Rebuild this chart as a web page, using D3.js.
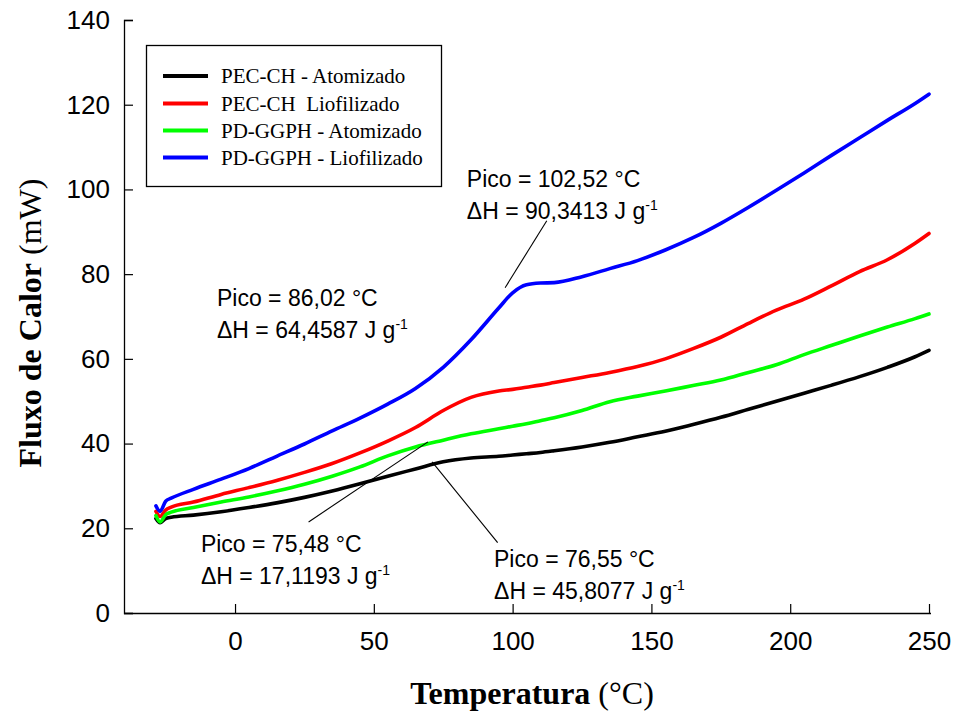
<!DOCTYPE html>
<html>
<head>
<meta charset="utf-8">
<script src="https://cdn.jsdelivr.net/npm/d3@7"></script>
<style>
  html, body { margin: 0; padding: 0; background: #fff; }
  svg { display: block; }
</style>
</head>
<body>
<svg id="chart" width="953" height="714"></svg>
<script>
// Temperature grid (°C) shared by all DSC curves
const temps = [-28.5, -27, -25, -23, -15, -5, 5, 15, 25, 35, 45, 55, 65, 75, 85, 95, 100, 105, 110, 115,
               125, 135, 145, 155, 165, 175, 185, 195, 205, 215, 225, 235, 245, 250];

// Heat flow (mW) for each sample
const pecAtomizado = [22.3, 21.3, 22.3, 22.6, 23.1, 23.9, 24.9, 26.0, 27.3, 28.8, 30.5, 32.3, 34.0, 35.7, 36.6, 37.0, 37.3, 37.6, 37.9, 38.3,
                      39.2, 40.3, 41.6, 42.9, 44.5, 46.2, 48.1, 50.0, 51.9, 53.8, 55.8, 58.0, 60.5, 62.0];
const pecLiofilizado = [24.0, 22.8, 24.3, 25.0, 26.2, 28.0, 29.6, 31.3, 33.2, 35.3, 37.8, 40.6, 43.8, 47.8, 50.9, 52.4, 52.8, 53.3, 53.8, 54.4,
                        55.6, 56.8, 58.2, 60.0, 62.4, 65.1, 68.4, 71.5, 74.1, 77.3, 80.6, 83.4, 87.3, 89.6];
const pdAtomizado = [23.0, 21.5, 23.2, 23.8, 24.9, 26.2, 27.4, 28.8, 30.4, 32.3, 34.5, 37.1, 39.2, 40.8, 42.3, 43.5, 44.1, 44.7, 45.4, 46.1,
                     47.8, 49.9, 51.2, 52.4, 53.7, 55.0, 56.8, 58.6, 61.0, 63.2, 65.4, 67.5, 69.5, 70.6];
const pdLiofilizado = [25.3, 24.0, 26.4, 27.1, 29.2, 31.6, 34.1, 37.0, 39.9, 43.0, 46.0, 49.3, 53.0, 58.0, 64.5, 72.0, 75.6, 77.5, 77.9, 78.0,
                       79.4, 81.3, 83.2, 85.7, 88.6, 92.0, 95.8, 99.8, 103.9, 108.1, 112.2, 116.3, 120.3, 122.5];

const seriesNames = ["PEC-CH - Atomizado", "PEC-CH  Liofilizado", "PD-GGPH - Atomizado", "PD-GGPH - Liofilizado"];
const seriesColors = ["#000000", "#ff0000", "#00ff00", "#0000ff"];
const seriesValues = [pecAtomizado, pecLiofilizado, pdAtomizado, pdLiofilizado];

const xTicks = [0, 50, 100, 150, 200, 250];
const yTicks = [0, 20, 40, 60, 80, 100, 120, 140];

// Peak annotations: text anchor and optional leader line, in data units
const annotations = [
  { pico: "Pico = 102,52 °C", dh: "90,3413", tx: 83.5, ty: 100.5, line: [[112.3, 92.6], [97.3, 76.8]] },
  { pico: "Pico = 86,02 °C",  dh: "64,4587", tx: -6.5, ty: 72.5, line: null },
  { pico: "Pico = 75,48 °C",  dh: "17,1193", tx: -12.3, ty: 14.4, line: [[26.5, 21.5], [69.5, 40.4]] },
  { pico: "Pico = 76,55 °C",  dh: "45,8077", tx: 93.3, ty: 10.8, line: [[71.0, 35.7], [94.6, 16.6]] }
];

const svg = d3.select("#chart");
const x = d3.scaleLinear().domain([-40, 250]).range([124, 929]);
const y = d3.scaleLinear().domain([0, 140]).range([613, 20]);

// Axes (ticks point inward)
const xAxis = d3.axisBottom(x).tickValues(xTicks).tickSize(-9).tickPadding(19).tickFormat(d3.format("d"));
const yAxis = d3.axisLeft(y).tickValues(yTicks).tickSize(-9).tickPadding(14).tickFormat(d3.format("d"));

const gx = svg.append("g").attr("transform", `translate(0,${y(0)})`).call(xAxis);
const gy = svg.append("g").attr("transform", `translate(${x(-40)},0)`).call(yAxis);
[gx, gy].forEach(g => {
  g.select(".domain").attr("stroke", "#000").attr("stroke-width", 1.3);
  g.selectAll(".tick line").attr("stroke", "#000").attr("stroke-width", 1.2);
  g.selectAll(".tick text").attr("fill", "#000")
    .style("font-family", "'Liberation Sans', Arial, sans-serif").style("font-size", "26px");
});
gx.select(".domain").attr("d", `M${x(-40)},0.5H${x(250) + 2}`);

// Curves
const line = d3.line()
  .x((d, i) => x(temps[i]))
  .y(d => y(d))
  .curve(d3.curveMonotoneX);

svg.append("g").selectAll("path")
  .data(seriesValues)
  .join("path")
  .attr("d", d => line(d))
  .attr("fill", "none")
  .attr("stroke", (d, i) => seriesColors[i])
  .attr("stroke-width", 3.6)
  .attr("stroke-linejoin", "round")
  .attr("stroke-linecap", "round");

// Legend
const legend = svg.append("g");
legend.append("rect")
  .attr("x", 146.5).attr("y", 45.5).attr("width", 295).attr("height", 141)
  .attr("fill", "#fff").attr("stroke", "#000").attr("stroke-width", 1.3);
const rowY = [76, 103.5, 130.5, 157.5];
seriesNames.forEach((name, i) => {
  legend.append("line")
    .attr("x1", 163).attr("x2", 208).attr("y1", rowY[i]).attr("y2", rowY[i])
    .attr("stroke", seriesColors[i]).attr("stroke-width", 4);
  legend.append("text")
    .attr("x", 221).attr("y", rowY[i] + 7)
    .attr("xml:space", "preserve")
    .style("white-space", "pre")
    .style("font-family", "'Liberation Serif', 'Times New Roman', serif")
    .style("font-size", "21px")
    .text(name);
});

// Annotations
const ann = svg.append("g")
  .style("font-family", "'Liberation Sans', Arial, sans-serif")
  .style("font-size", "23px")
  .attr("fill", "#000");
annotations.forEach(a => {
  const px = x(a.tx), py = y(a.ty);
  ann.append("text").attr("x", px).attr("y", py).text(a.pico);
  const t = ann.append("text").attr("x", px).attr("y", py + 32);
  t.append("tspan").text(`\u0394H = ${a.dh} J g`);
  t.append("tspan").attr("dy", -9).style("font-size", "14px").text("-1");
  if (a.line) {
    ann.append("line")
      .attr("x1", x(a.line[0][0])).attr("y1", y(a.line[0][1]))
      .attr("x2", x(a.line[1][0])).attr("y2", y(a.line[1][1]))
      .attr("stroke", "#000").attr("stroke-width", 1.1);
  }
});

// Axis titles
const serif = "'Liberation Serif', 'Times New Roman', serif";
const xt = svg.append("text")
  .attr("x", 532).attr("y", 704).attr("text-anchor", "middle")
  .style("font-family", serif).style("font-size", "32px");
xt.append("tspan").style("font-weight", "bold").text("Temperatura");
xt.append("tspan").text(" (°C)");

const yt = svg.append("text")
  .attr("transform", "translate(41,323) rotate(-90)").attr("text-anchor", "middle")
  .style("font-family", serif).style("font-size", "32px");
yt.append("tspan").style("font-weight", "bold").text("Fluxo de Calor");
yt.append("tspan").text(" (mW)");
</script>
</body>
</html>
